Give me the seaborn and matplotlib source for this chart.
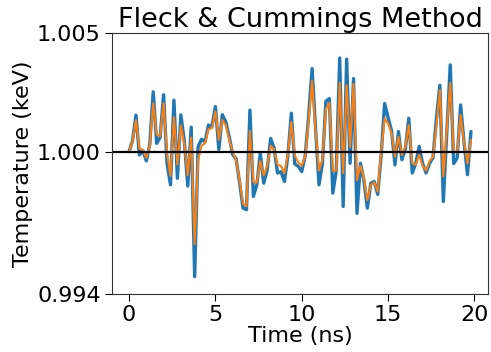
import numpy as np
import pandas as pd
import seaborn as sns
import matplotlib
import matplotlib.pyplot as plt
from matplotlib.ticker import FormatStrFormatter

matplotlib.use('Agg')

# Time samples (ns), every 0.2 ns
time_ns = [round(0.2 * k, 1) for k in range(100)]

# Temperature deviation from 1 keV, in units of 1e-3 keV
dev_blue = [
    0.0, 0.45, 1.54, -0.14, 0.05, -0.39, 0.3, 2.52, 0.35, 0.6,
    2.4, -0.49, -1.4, 2.17, -1.12, 1.55, 0.45, -1.45, 1.03, -5.27,
    0.22, 0.52, 0.42, 1.12, 1.05, 1.9, 0.09, 1.56, 1.26, 0.63,
    -0.12, -0.3, -1.3, -2.38, -2.45, 1.75, -1.89, -1.4, -0.07, -1.33,
    -0.77, 0.56, 0.15, -0.9, -0.85, -1.26, -0.15, 1.62, -0.52, -0.62,
    -0.84, -0.18, 1.5, 3.5, 1.0, -1.4, -0.49, 2.12, 2.24, -1.75,
    -0.8, 3.95, -2.31, 3.9, -0.49, 3.08, -2.6, -0.49, -1.2, -2.38,
    -1.33, -1.26, -1.8, -0.15, 2.03, 1.44, 0.88, -0.56, 0.85, -0.34,
    0.1, 1.41, -0.9, -0.5, 0.22, -0.5, -0.9, -0.5, -0.25, 1.4,
    2.8, -2.1, 0.8, 3.66, -0.5, -0.27, 1.97, 0.4, -0.97, 0.85,
]
dev_orange = [
    0.0, 0.4, 1.33, 0.14, 0.07, -0.25, 0.24, 2.04, 0.72, 0.65,
    2.04, -0.06, -1.03, 1.46, -0.55, 1.1, 0.32, -1.0, 0.6, -3.9,
    -0.35, 0.25, 0.36, 0.95, 0.99, 1.69, 0.5, 1.34, 1.12, 0.5,
    0.0, -0.35, -1.2, -2.2, -2.3, 0.87, -1.28, -1.3, -0.4, -1.0,
    -0.6, 0.25, 0.1, -0.55, -0.6, -0.9, -0.1, 1.25, -0.15, -0.45,
    -0.6, -0.2, 1.3, 3.0, 0.9, -0.8, -0.3, 1.8, 2.05, -0.8,
    -0.8, 2.9, -0.9, 2.8, 0.2, 2.85, -1.2, -0.6, -1.1, -2.05,
    -1.4, -1.3, -1.68, 0.0, 1.4, 1.19, 0.77, -0.21, 0.63, -0.14,
    0.21, 1.12, -0.49, -0.56, -0.14, -0.6, -0.8, -0.4, -0.21, 1.1,
    2.6, -1.05, 0.9, 2.9, 0.05, -0.05, 1.55, 0.4, -0.5, 0.5,
]

ref_temp = 1.0
ytick_vals = [0.994, 1.000, 1.005]

df = pd.DataFrame({
    'time': time_ns,
    'blue': ref_temp + np.array(dev_blue) * 1e-3,
    'orange': ref_temp + np.array(dev_orange) * 1e-3,
})

sns.set_style("ticks", {'text.color': 'black', 'axes.labelcolor': 'black',
                        'xtick.color': 'black', 'ytick.color': 'black',
                        'axes.edgecolor': '#333333'})
plt.rcParams['font.family'] = ['DejaVu Sans']

fig = plt.figure(figsize=(4.91, 3.52), dpi=100)
ax = fig.add_axes([0.228, 0.165, 0.766, 0.741])

sns.lineplot(data=df, x='time', y='blue', color='#1f77b4', linewidth=2.4, ax=ax)
sns.lineplot(data=df, x='time', y='orange', color='#ff7f0e', linewidth=1.5, ax=ax)
ax.axhline(ref_temp, color='black', linewidth=1.6)

ax.set_ylim(0.994, 1.005)
ax.set_yticks(ytick_vals)
ax.yaxis.set_major_formatter(FormatStrFormatter('%.3f'))
ax.set_xticks([0, 5, 10, 15, 20])
ax.tick_params(labelsize=16, length=5, pad=3)

ax.set_title("Fleck & Cummings Method", fontsize=19.5, pad=3)
ax.set_xlabel("Time (ns)", fontsize=16, labelpad=1)
ax.set_ylabel("Temperature (keV)", fontsize=16, labelpad=3)

fig.savefig("out.png", dpi=100)
plt.close(fig)
